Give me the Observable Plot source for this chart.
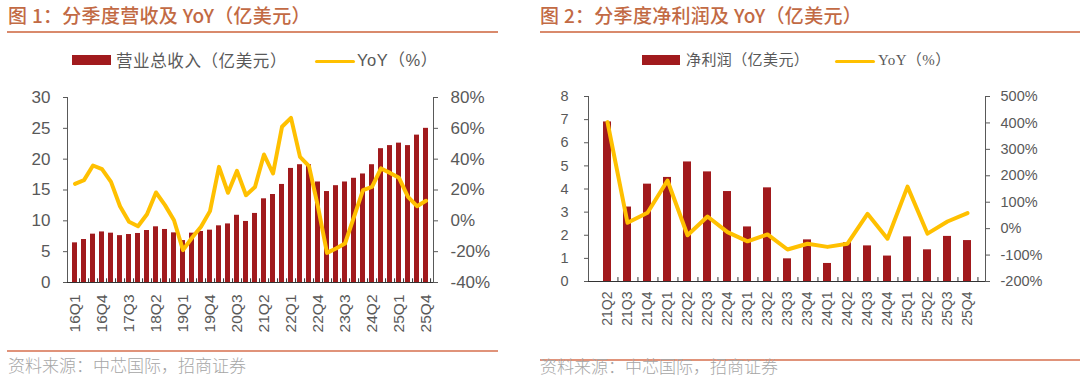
<!DOCTYPE html>
<html><head><meta charset="utf-8">
<script src="https://cdn.jsdelivr.net/npm/d3@7"></script>
<script src="https://cdn.jsdelivr.net/npm/@observablehq/plot@0.6"></script>
<style>
body{margin:0;width:1080px;height:378px;background:#fff;position:relative;overflow:hidden;font-family:"Noto Sans CJK SC",sans-serif;}
.abs{position:absolute;white-space:nowrap;}
.title{font-size:19px;line-height:20px;color:#c26a44;font-weight:500;top:5px;letter-spacing:0.3px;}
.rule{position:absolute;height:2px;background:#d98a6c;}
.rule2{position:absolute;height:2px;background:#e0937a;}
.leg{font-size:16.5px;line-height:18px;color:#595959;top:51px;letter-spacing:0.6px;}
.leg2{font-size:15px;line-height:18px;color:#595959;top:51px;letter-spacing:0.4px;font-family:"Liberation Serif","Noto Sans CJK SC",serif;}
.sw{position:absolute;height:10px;background:#a11a1d;top:55px;}
.ln{position:absolute;height:3px;background:#ffc000;top:60px;border-radius:2px;}
.foot{font-size:17px;color:#a6a6a6;line-height:18px;top:356px;font-weight:300;}
.chart{position:absolute;top:80px;}
</style>
</head><body>
<div class="abs title" style="left:8px">图 1：分季度营收及 YoY（亿美元）</div>
<div class="rule" style="left:7px;width:491px;top:31px"></div>
<div class="sw" style="left:72px;width:39px"></div>
<div class="abs leg" style="left:116px">营业总收入（亿美元）</div>
<div class="ln" style="left:315px;width:40px"></div>
<div class="abs leg" style="left:357px;font-family:'Liberation Sans','Noto Sans CJK SC',sans-serif">YoY（%）</div>
<div id="c1" class="chart" style="left:0px"></div>
<div class="rule2" style="left:7px;width:491px;top:350px"></div>
<div class="abs foot" style="left:8px">资料来源：中芯国际，招商证券</div>

<div class="abs title" style="left:540px">图 2：分季度净利润及 YoY（亿美元）</div>
<div class="rule" style="left:540px;width:540px;top:31px"></div>
<div class="sw" style="left:642px;width:38px"></div>
<div class="abs leg2" style="left:686px">净利润（亿美元）</div>
<div class="ln" style="left:835px;width:40px"></div>
<div class="abs leg2" style="left:878px">YoY（%）</div>
<div id="c2" class="chart" style="left:540px"></div>
<div class="rule2" style="left:540px;width:540px;top:359px"></div>
<div class="abs foot" style="left:540px;top:357px">资料来源：中芯国际，招商证券</div>

<script>
// ---------- Chart 1 data ----------
const quarters1 = ["16Q1","16Q2","16Q3","16Q4","17Q1","17Q2","17Q3","17Q4","18Q1","18Q2","18Q3","18Q4","19Q1","19Q2","19Q3","19Q4","20Q1","20Q2","20Q3","20Q4","21Q1","21Q2","21Q3","21Q4","22Q1","22Q2","22Q3","22Q4","23Q1","23Q2","23Q3","23Q4","24Q1","24Q2","24Q3","24Q4","25Q1","25Q2","25Q3","25Q4"];
const revenue = [6.43,6.97,7.84,8.20,8.00,7.60,7.78,7.95,8.43,9.03,8.60,8.05,6.80,8.00,8.27,8.49,9.19,9.50,10.90,9.90,11.20,13.57,14.27,15.90,18.50,19.10,19.10,16.30,14.75,15.70,16.30,16.90,17.60,19.10,21.70,22.20,22.60,22.20,23.90,25.00];
const revYoY = [24,26.4,35.9,33.5,25.3,9.5,-0.6,-3.5,4.3,18.4,10.2,0.4,-19,-11,-3.9,6.3,35,18.2,32.4,16.6,22,43,30.7,61,66.8,41.5,35.5,9.1,-20.8,-17.9,-14.7,2.6,19.9,22,34,31.1,27.9,15.6,9.5,13];
const xLabels1 = ["16Q1","16Q4","17Q3","18Q2","19Q1","19Q4","20Q3","21Q2","22Q1","22Q4","23Q3","24Q2","25Q1","25Q4"];
const leftTicks1 = [0,5,10,15,20,25,30];
const rightTicks1 = [-40,-20,0,20,40,60,80];

// ---------- Chart 2 data ----------
const quarters2 = ["21Q2","21Q3","21Q4","22Q1","22Q2","22Q3","22Q4","23Q1","23Q2","23Q3","23Q4","24Q1","24Q2","24Q3","24Q4","25Q1","25Q2","25Q3","25Q4"];
const profit = [6.9,3.22,4.21,4.5,5.17,4.74,3.89,2.36,4.05,0.98,1.8,0.78,1.68,1.54,1.1,1.93,1.37,1.95,1.77];
const profitYoY = [403,22,60,182,-25,46,-13,-48,-22,-79,-57,-69,-57,56,-38,159,-19,27,59];
const leftTicks2 = [0,1,2,3,4,5,6,7,8];
const rightTicks2 = [-200,-100,0,100,200,300,400,500];

const RED = "#a11a1d", YEL = "#ffc000", AX = "#595959";

function dualChart(cfg) {
  const {cats, vals, yoy, lMax, rMin, rMax, lTicks, rTicks, xTicks, width, height, mL, mR, mT, mB,
         padInner, font, xFont, lPad, rPad, xPad, lw, tickLen} = cfg;
  const toL = p => (p - rMin) / (rMax - rMin) * lMax;
  const fromL = v => v / lMax * (rMax - rMin) + rMin;
  const data = cats.map((q, i) => ({q, v: vals[i], y: yoy[i]}));
  const step = (width - mL - mR) / cats.length;
  return Plot.plot({
    width, height, marginLeft: mL, marginRight: mR, marginTop: mT, marginBottom: mB,
    style: {fontFamily: "'Liberation Sans', Arial, sans-serif", fontSize: font + "px", color: AX, background: "transparent", overflow: "visible"},
    x: {type: "band", domain: cats, paddingInner: padInner, paddingOuter: padInner / 2, axis: null, label: null},
    y: {domain: [0, lMax], axis: null, label: null},
    marks: [
      Plot.barY(data, {x: "q", y: "v", fill: RED}),
      Plot.frame({anchor: "left", stroke: AX}),
      Plot.frame({anchor: "right", stroke: AX}),
      Plot.ruleY([0], {stroke: "#333"}),
      Plot.ruleX(cats, {x: d => d, y1: 0, y2: tickLen, dx: step / 2, stroke: "#333"}),
      Plot.axisY({anchor: "left", label: null, ticks: lTicks, tickSize: 4, tickPadding: lPad, tickFormat: d => String(d)}),
      Plot.axisY({anchor: "right", label: null, ticks: rTicks.map(toL), tickSize: 4, tickPadding: rPad,
                  tickFormat: v => Math.round(fromL(v)) + "%"}),
      Plot.axisX({label: null, ticks: xTicks, tickSize: 0, tickRotate: -90, tickPadding: xPad, fontSize: xFont}),
      Plot.lineY(data, {x: "q", y: d => toL(d.y), stroke: YEL, strokeWidth: lw, strokeLinejoin: "round", strokeLinecap: "round"})
    ]
  });
}

document.getElementById("c1").appendChild(dualChart({
  cats: quarters1, vals: revenue, yoy: revYoY, lMax: 30, rMin: -40, rMax: 80,
  lTicks: leftTicks1, rTicks: rightTicks1, xTicks: xLabels1,
  width: 500, height: 260, mL: 67, mR: 67, mT: 17, mB: 58, padInner: 0.45,
  font: 17, xFont: 15.5, lPad: 13, rPad: 13, xPad: 12, lw: 4, tickLen: 0.6
}));

document.getElementById("c2").appendChild(dualChart({
  cats: quarters2, vals: profit, yoy: profitYoY, lMax: 8, rMin: -200, rMax: 500,
  lTicks: leftTicks2, rTicks: rightTicks2, xTicks: quarters2,
  width: 540, height: 260, mL: 48, mR: 95, mT: 16, mB: 59, padInner: 0.6,
  font: 14.5, xFont: 14, lPad: 16, rPad: 11, xPad: 10, lw: 4, tickLen: 0.17
}));
</script>
</body></html>
